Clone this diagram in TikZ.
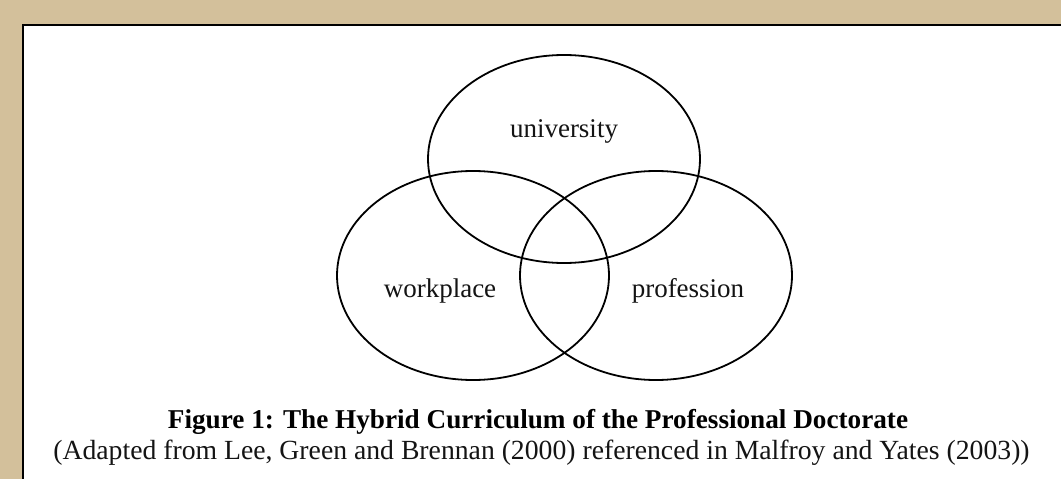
\documentclass[tikz,border=0pt]{standalone}
\usepackage{fontspec}
\setmainfont{Liberation Serif}
\definecolor{tanbg}{RGB}{211,192,155}
\definecolor{inktext}{RGB}{20,20,20}
\begin{document}
\begin{tikzpicture}[x=1pt,y=-1pt,
  venn/.style={line width=1.8pt, draw=black},
  lbl/.style={font=\fontsize{27}{32}\selectfont, text=inktext, anchor=base, inner sep=0pt},
  capbold/.style={font=\fontsize{27.2}{32}\selectfont\bfseries, text=black, anchor=base, inner sep=0pt},
  capreg/.style={font=\fontsize{27.7}{32}\selectfont, text=inktext, anchor=base, inner sep=0pt}]
\useasboundingbox (0,0) rectangle (1061,479);
\fill[tanbg] (0,0) rectangle (1061,479);
\fill[white] (23,25) rectangle (1061,479);
\draw[line width=2.2pt] (23,479) -- (23,25) -- (1061,25);
% ellipses
\draw[venn] (564,159) ellipse [x radius=136, y radius=104];
\draw[venn] (473,275.5) ellipse [x radius=136, y radius=104.5];
\draw[venn] (656,275.5) ellipse [x radius=136, y radius=104.5];
% labels
\node[lbl] (univ) at (564,137) {university};
\node[lbl] (work) at (440,297) {workplace};
\node[lbl] (prof) at (688,297) {profession};
% caption
\node[capbold] (fig) at (538,428) {Figure 1: The Hybrid Curriculum of the Professional Doctorate};
\node[capreg] (src) at (541.5,459) {(Adapted from Lee, Green and Brennan (2000) referenced in Malfroy and Yates (2003))};
\end{tikzpicture}
\end{document}
